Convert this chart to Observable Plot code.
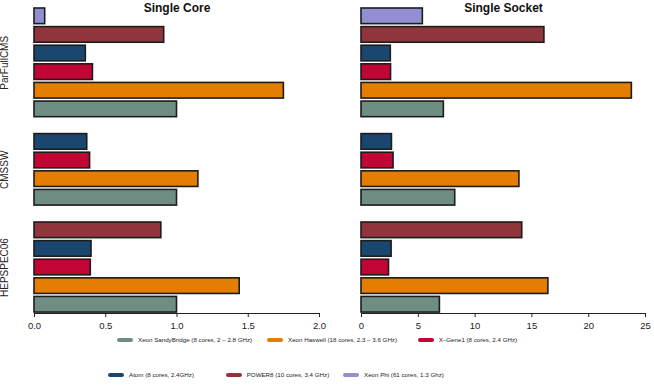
<!DOCTYPE html>
<html>
<head>
<meta charset="utf-8">
<script src="https://cdn.jsdelivr.net/npm/d3@7"></script>
<script src="https://cdn.jsdelivr.net/npm/@observablehq/plot@0.6"></script>
<style>
  html, body { margin: 0; padding: 0; background: #fff; }
  body { width: 654px; height: 392px; overflow: hidden; font-family: "Liberation Sans", Arial, Helvetica, sans-serif; }
  #plots { display: flex; flex-direction: row; }
  #legend { position: relative; width: 654px; height: 57px; }
  .sw { position: absolute; width: 15.5px; height: 4px; border-radius: 2px; }
  .lt { position: absolute; font-size: 6.2px; line-height: 8px; color: #222; white-space: nowrap; }
</style>
</head>
<body>
<div id="plots"></div>
<div id="legend"></div>
<script>
// ---- data (bars listed top to bottom inside each benchmark) ----
const benchmarks = ["ParFullCMS", "CMSSW", "HEPSPEC06"];
const barOrder = ["Xeon Phi", "POWER8", "Atom", "X-Gene1", "Xeon Haswell", "Xeon SandyBridge"];
const barColors = ["#938dd2", "#90353b", "#1a476f", "#c10534", "#e37e00", "#6e8e84"];

const parfullcmsCore   = [0.075, 0.91, 0.36, 0.41, 1.75, 1.0];
const cmsswCore        = [null, null, 0.37, 0.39, 1.15, 1.0];
const hepspecCore      = [null, 0.89, 0.40, 0.395, 1.44, 1.0];

const parfullcmsSocket = [5.4, 16.1, 2.58, 2.6, 23.8, 7.25];
const cmsswSocket      = [null, null, 2.68, 2.82, 13.9, 8.25];
const hepspecSocket    = [null, 14.15, 2.65, 2.42, 16.45, 6.9];

const coreTicks   = [0, 0.5, 1.0, 1.5, 2.0];
const socketTicks = [0, 5, 10, 15, 20, 25];

const panelTitles = ["Single Core", "Single Socket"];

const legendOrder = ["Xeon SandyBridge", "Xeon Haswell", "X-Gene1", "Atom", "POWER8", "Xeon Phi"];
const legendLabels = [
  "Xeon SandyBridge (8 cores, 2 \u2013 2.8 GHz)",
  "Xeon Haswell (18 cores, 2.3 \u2013 3.6 GHz)",
  "X\u2013Gene1 (8 cores, 2.4 GHz)",
  "Atom (8 cores, 2.4GHz)",
  "POWER8 (10 cores, 3.4 GHz)",
  "Xeon Phi (61 cores, 1.3 Ghz)"
];

// ---- build tables ----
const BAR = 0.84, GAP = 0.75;
function buildRows(seriesList) {
  const rows = [], groups = [];
  let slot = 0;
  benchmarks.forEach((b, gi) => {
    const vals = seriesList[gi];
    const start = slot + gi * GAP;
    vals.forEach((v, i) => {
      if (v == null) return;
      const pos = slot + gi * GAP;
      rows.push({bench: b, proc: barOrder[i], value: v, y1: pos, y2: pos + BAR});
      slot++;
    });
    const end = slot - 1 + gi * GAP + BAR;
    groups.push({name: b, center: (start + end) / 2});
  });
  return {rows, groups, total: slot - 1 + (benchmarks.length - 1) * GAP + BAR};
}

const coreData = buildRows([parfullcmsCore, cmsswCore, hepspecCore]);
const socketData = buildRows([parfullcmsSocket, cmsswSocket, hepspecSocket]);

const font = '"Liberation Sans", Arial, Helvetica, sans-serif';

function panel(data, ticks, fmt, title, showGroups, mLeft, mRight) {
  const yMax = data.total + 0.05;
  const marks = [
    Plot.rectX(data.rows, {
      x1: 0, x2: "value", y1: "y1", y2: "y2",
      fill: d => barColors[barOrder.indexOf(d.proc)],
      stroke: "#1c1c1c", strokeWidth: 1.6
    }),
    Plot.ruleY([yMax], {x1: d3.min(ticks), x2: d3.max(ticks), stroke: "#222", strokeWidth: 1}),
    Plot.text([title], {frameAnchor: "top", dy: -4.8, fontWeight: "bold", fontSize: 12, fill: "#111"})
  ];
  if (showGroups) {
    marks.push(Plot.text(data.groups, {
      y: "center", text: "name", frameAnchor: "left", dx: -30,
      rotate: -90, textAnchor: "middle", lineAnchor: "middle", fontSize: 10, fill: "#222"
    }));
  }
  return Plot.plot({
    width: 327, height: 335,
    marginLeft: mLeft, marginRight: mRight, marginTop: 8, marginBottom: 22,
    style: {fontFamily: font, fontSize: "9.5px", color: "#222", background: "#fff", overflow: "visible"},
    x: {domain: [d3.min(ticks), d3.max(ticks)], ticks: ticks, tickFormat: fmt, tickSize: 4, label: null},
    y: {domain: [0, yMax], reverse: true, axis: null},
    marks
  });
}

const plots = document.getElementById("plots");
plots.appendChild(panel(coreData, coreTicks, d3.format(".1f"), panelTitles[0], true, 34, 8));
plots.appendChild(panel(socketData, socketTicks, d3.format("d"), panelTitles[1], false, 34, 9));

// ---- legend ----
const legend = document.getElementById("legend");
const legendPos = [
  [117.3, 5], [267.3, 5], [418, 5],
  [108.3, 40], [226, 40], [343.3, 40]
];
legendOrder.forEach((p, i) => {
  const [lx, cy] = legendPos[i];
  const sw = document.createElement("div");
  sw.className = "sw";
  sw.style.left = lx + "px";
  sw.style.top = (cy - 2) + "px";
  sw.style.background = barColors[barOrder.indexOf(p)];
  legend.appendChild(sw);
  const t = document.createElement("div");
  t.className = "lt";
  t.style.left = (lx + 20.7) + "px";
  t.style.top = (cy - 4) + "px";
  t.textContent = legendLabels[i];
  legend.appendChild(t);
});
</script>
</body>
</html>
